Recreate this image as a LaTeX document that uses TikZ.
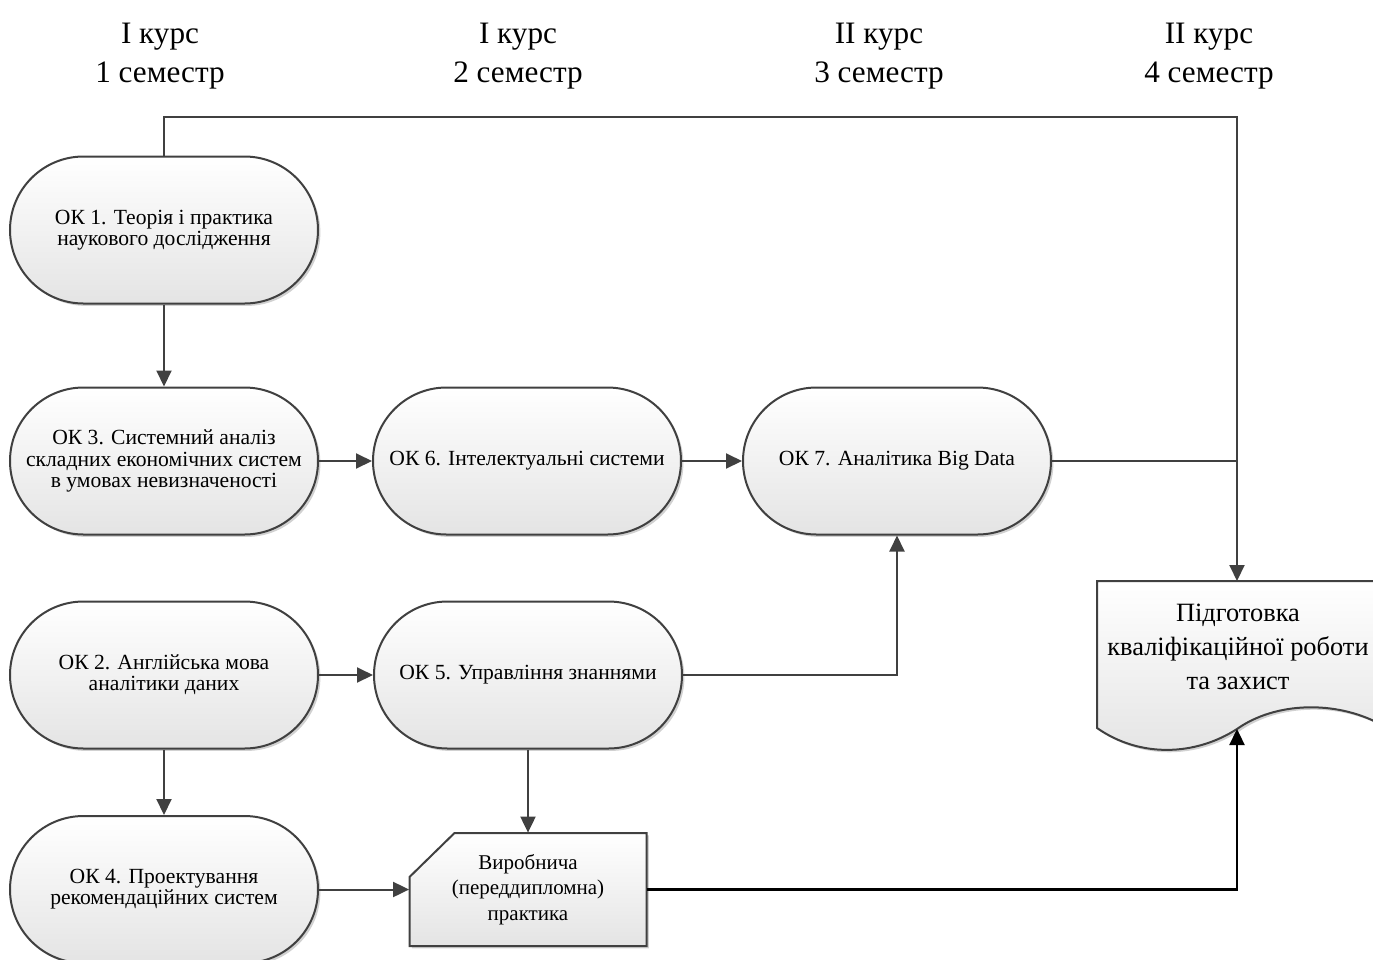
\documentclass[tikz,border=0pt]{standalone}
\usepackage{fontspec}
\setmainfont{Liberation Serif}
\usetikzlibrary{shapes.misc,arrows.meta,shadows,backgrounds}
\definecolor{linegray}{HTML}{404040}
\definecolor{fillbot}{HTML}{E4E4E4}
\tikzset{
  term/.style={rounded rectangle, draw=linegray, line width=1pt,
    minimum width=154pt, minimum height=73.5pt, inner sep=0pt,
    top color=white, bottom color=fillbot, align=center,
    font=\fontsize{10.8}{10.6}\selectfont,
    drop shadow={shadow xshift=1.2pt, shadow yshift=-1.2pt, opacity=0.18, fill=black}},
  shapefill/.style={draw=linegray, line width=1pt, top color=white, bottom color=fillbot,
    drop shadow={shadow xshift=1.2pt, shadow yshift=-1.2pt, opacity=0.18, fill=black}},
  header/.style={align=center, font=\fontsize{15.6}{19.5}\selectfont},
  conn/.style={draw=linegray, line width=1pt, -{Triangle[length=8pt,width=7.5pt]}},
  plainconn/.style={draw=linegray, line width=1pt},
  darkconn/.style={draw=black, line width=1.2pt, -{Triangle[length=8pt,width=7.5pt]}}
}
\begin{document}
\begin{tikzpicture}[x=0.5pt,y=-0.5pt]
\useasboundingbox (0,0) rectangle (1373,960);
\clip (0,0) rectangle (1373,960);

% headers
\node[header] (h1) at (160,56) {I курс\\1 семестр};
\node[header] (h2) at (518,56) {I курс\\2 семестр};
\node[header] (h3) at (879,56) {II курс\\3 семестр};
\node[header] (h4) at (1209,56) {II курс\\4 семестр};

% terminators
\node[term] (ok1) at (164,230) {ОК 1. Теорія і практика\\наукового дослідження};
\node[term] (ok3) at (164,461) {ОК 3. Системний аналіз\\складних економічних систем\\в умовах невизначеності};
\node[term] (ok6) at (527,461) {ОК 6. Інтелектуальні системи};
\node[term] (ok7) at (897,461) {ОК 7. Аналітика Big Data};
\node[term] (ok2) at (164,675) {ОК 2. Англійська мова\\аналітики даних};
\node[term] (ok5) at (528,675) {ОК 5. Управління знаннями};
\node[term] (ok4) at (164,889.5) {ОК 4. Проектування\\рекомендаційних систем};

% card (practice)
\node[minimum width=118.5pt, minimum height=56.5pt, inner sep=0pt, align=center,
  font=\fontsize{10.5}{12.75}\selectfont] (card) at (528,889.5)
  {Виробнича\\(переддипломна)\\практика};
\begin{scope}[on background layer]
\path[shapefill] (454.5,833) -- (646.5,833) -- (646.5,946) -- (409.5,946) -- (409.5,877) -- cycle;
\end{scope}

% document
\node[align=center, font=\fontsize{13.2}{17}\selectfont] (doc) at (1238,647)
  {Підготовка\\кваліфікаційної роботи\\та захист};
\coordinate (doctop) at (1237,581);
\coordinate (docbot) at (1237,729);
\begin{scope}[on background layer]
\path[shapefill] (1097,581) -- (1380,581) -- (1380,724)
  .. controls (1335,700) and (1275,702) .. (1237,729)
  .. controls (1195,756) and (1140,758) .. (1097,728) -- cycle;
\end{scope}

% connectors
\coordinate (topturn) at (164,117);
\draw[conn] (ok1.north) -- (topturn) -| (doctop);
\draw[conn] (ok1.south) -- (ok3.north);
\draw[conn] (ok3.east) -- (ok6.west);
\draw[conn] (ok6.east) -- (ok7.west);
\draw[plainconn] (ok7.east) -- (ok7.east -| doctop);
\draw[conn] (ok2.east) -- (ok5.west);
\draw[conn] (ok5.east) -| (ok7.south);
\draw[conn] (ok2.south) -- (ok4.north);
\draw[conn] (ok5.south) -- (card.north);
\draw[conn] (ok4.east) -- (card.west);
\draw[darkconn] (card.east) -| (docbot);
\end{tikzpicture}
\end{document}
